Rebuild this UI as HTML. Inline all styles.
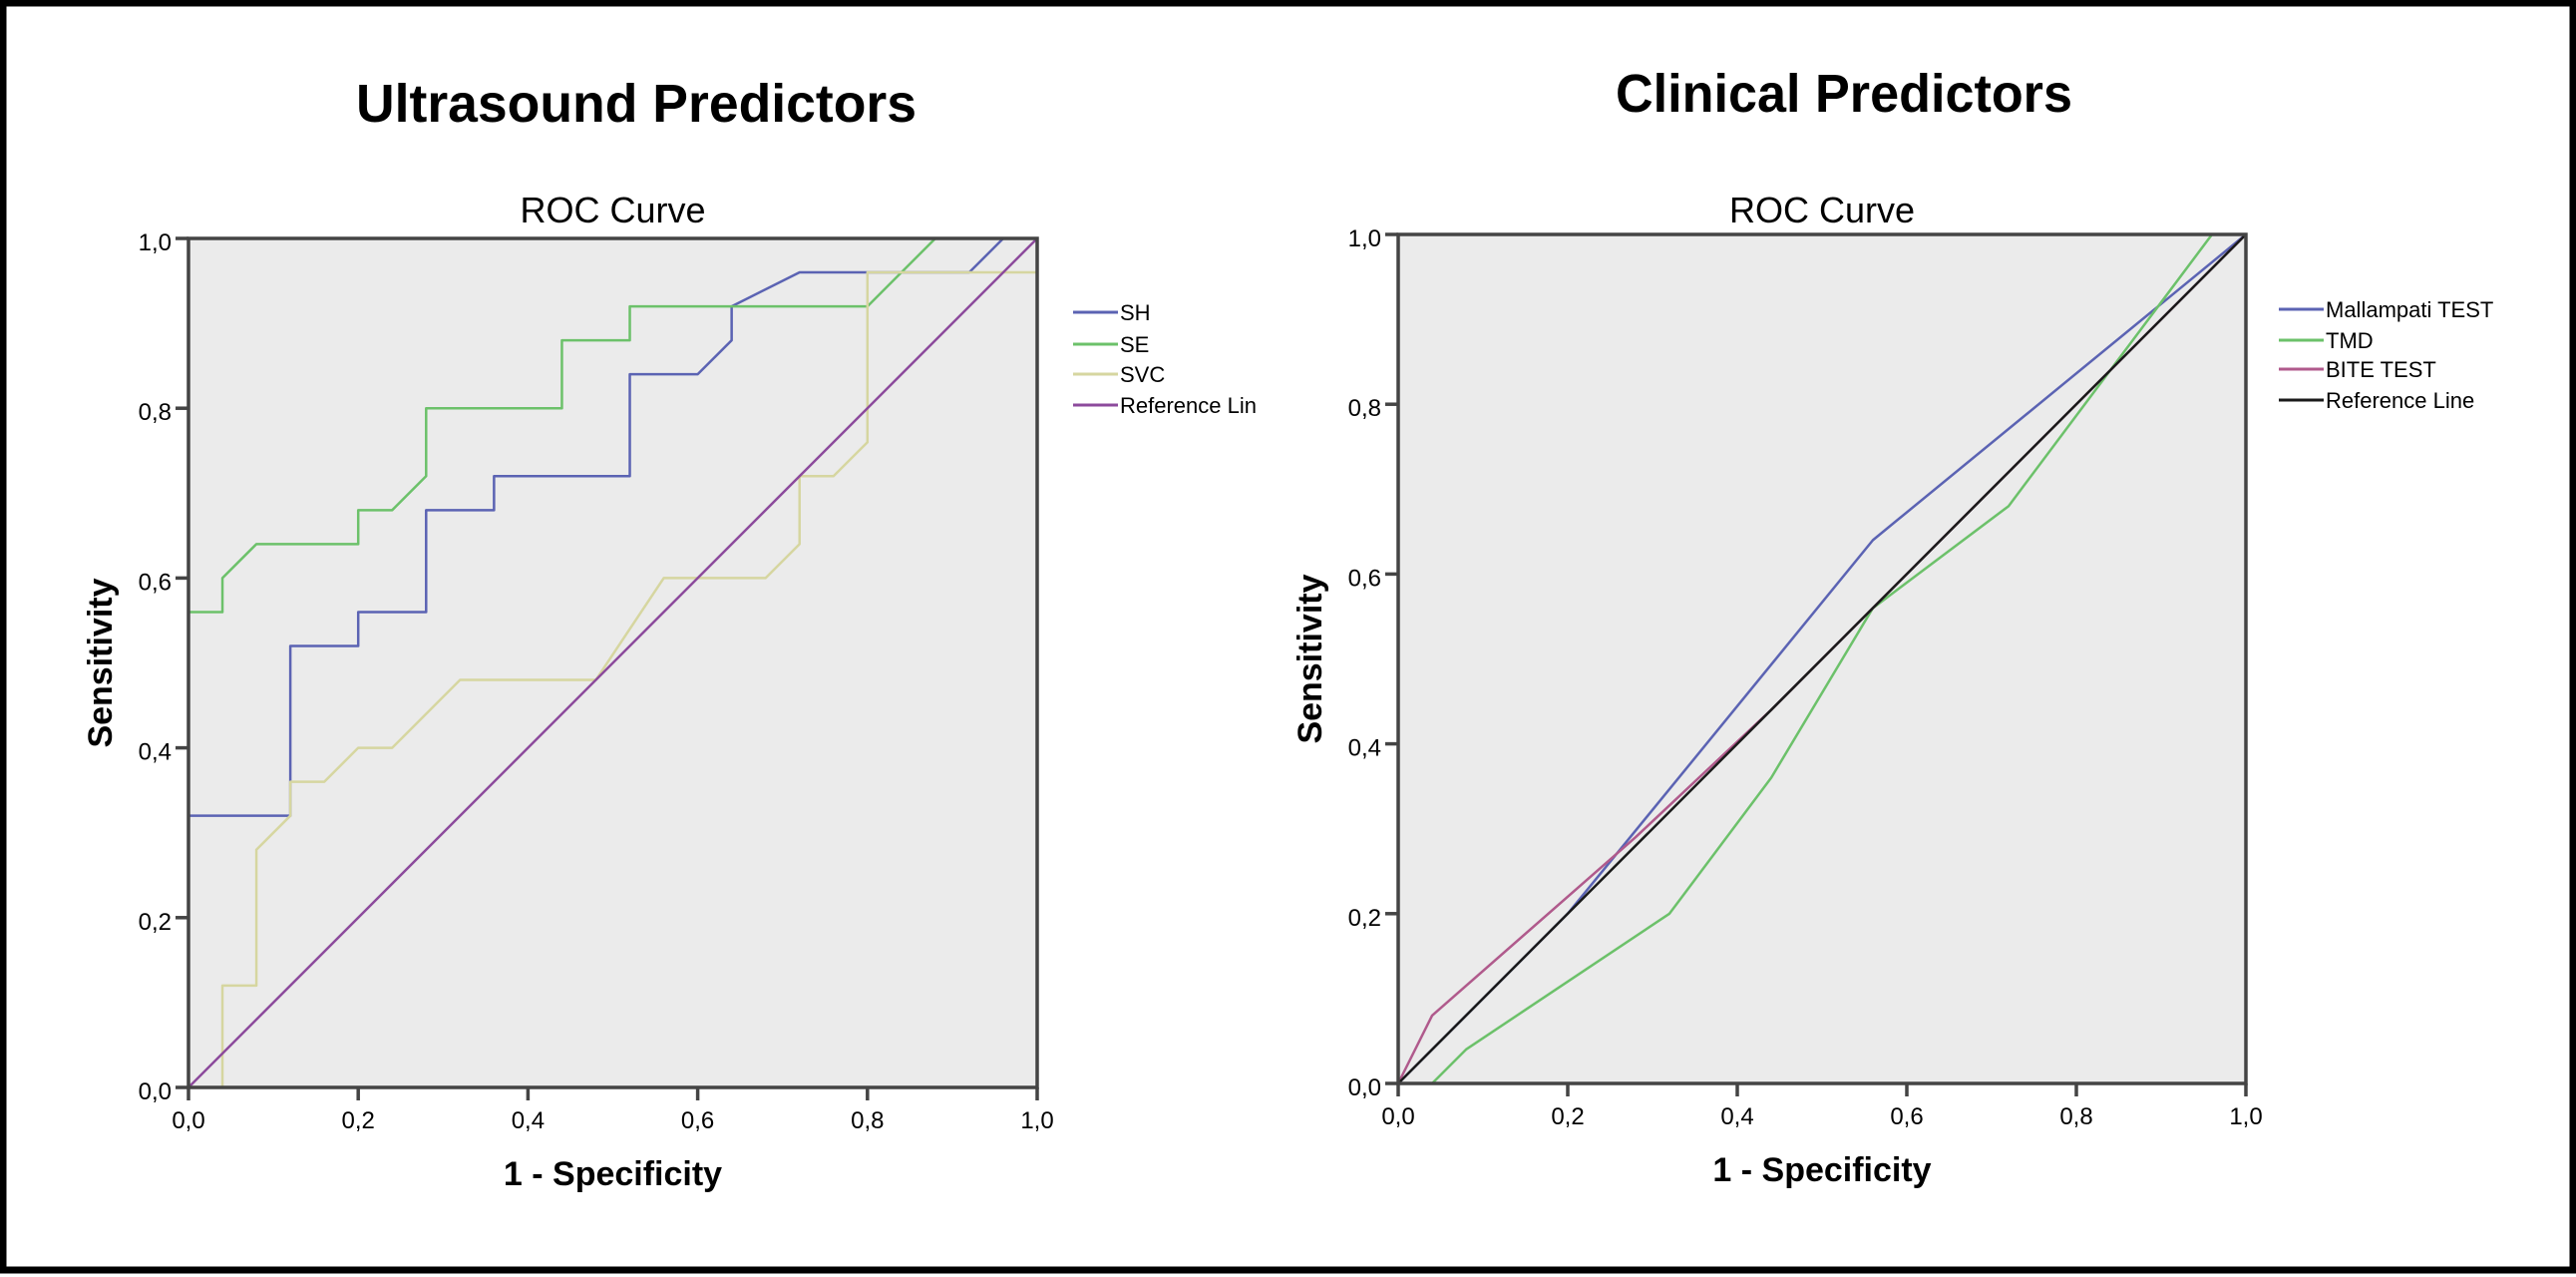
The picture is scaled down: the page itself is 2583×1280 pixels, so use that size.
<!DOCTYPE html>
<html><head><meta charset="utf-8"><style>
html,body{margin:0;padding:0;background:#fff;}
svg{display:block;font-family:"Liberation Sans",sans-serif;}
</style></head><body>
<svg id="s" width="2583" height="1280" viewBox="0 0 2583 1280" xmlns="http://www.w3.org/2000/svg">
<rect x="3" y="3" width="2577" height="1270" fill="#fff" stroke="#000" stroke-width="7"/>
<text x="638" y="122" text-anchor="middle" font-size="54" font-weight="bold" textLength="562" lengthAdjust="spacingAndGlyphs">Ultrasound Predictors</text>
<text x="1849" y="112" text-anchor="middle" font-size="54" font-weight="bold" textLength="458" lengthAdjust="spacingAndGlyphs">Clinical Predictors</text>
<g id="left"></g>
<g id="right"></g>
</svg>
<script>
const ticks = [0, 0.2, 0.4, 0.6, 0.8, 1.0];
const tickLabels = ["0,0", "0,2", "0,4", "0,6", "0,8", "1,0"];

const usNames = ["SH", "SE", "SVC", "Reference Lin"];
const shX = [0,0,0.12,0.12,0.2,0.2,0.28,0.28,0.36,0.36,0.52,0.52,0.6,0.64,0.64,0.72,0.92,0.96,1];
const shY = [0,0.32,0.32,0.52,0.52,0.56,0.56,0.68,0.68,0.72,0.72,0.84,0.84,0.88,0.92,0.96,0.96,1,1];
const seX = [0,0,0.04,0.04,0.08,0.2,0.2,0.24,0.28,0.28,0.44,0.44,0.52,0.52,0.8,0.88,1];
const seY = [0,0.56,0.56,0.6,0.64,0.64,0.68,0.68,0.72,0.8,0.8,0.88,0.88,0.92,0.92,1,1];
const svcX = [0,0.04,0.04,0.08,0.08,0.12,0.12,0.16,0.2,0.24,0.32,0.48,0.56,0.68,0.72,0.72,0.76,0.8,0.8,1];
const svcY = [0,0,0.12,0.12,0.28,0.32,0.36,0.36,0.4,0.4,0.48,0.48,0.6,0.6,0.64,0.72,0.72,0.76,0.96,0.96];
const refX = [0,1];
const refY = [0,1];

const clNames = ["Mallampati TEST", "TMD", "BITE TEST", "Reference Line"];
const malX = [0,0.2,0.56,1];
const malY = [0,0.2,0.64,1];
const tmdX = [0,0.04,0.08,0.32,0.44,0.56,0.72,0.96,1];
const tmdY = [0,0,0.04,0.2,0.36,0.56,0.68,1,1];
const biteX = [0,0.04,0.28,0.44,1];
const biteY = [0,0.08,0.29,0.44,1];

const NS = "http://www.w3.org/2000/svg";
function mk(parent, tag, attrs){
  const e = document.createElementNS(NS, tag);
  for (const k in attrs) e.setAttribute(k, attrs[k]);
  parent.appendChild(e);
  return e;
}
function drawChart(g, box, series, names, colors, legX, legRows){
  const sx = v => box.x0 + v*(box.x1-box.x0);
  const sy = v => box.y1 - v*(box.y1-box.y0);
  const bg = mk(g,'rect',{x:box.x0,y:box.y0,width:box.x1-box.x0,height:box.y1-box.y0,fill:'#ebebeb'});
  
  
  const t = mk(g,'text',{x:(box.x0+box.x1)/2,y:223,'text-anchor':'middle','font-size':36});
  t.textContent = 'ROC Curve';
  
  
  series.forEach((s,i)=>{
    const pts = s.x.map((v,j)=>sx(v)+','+sy(s.y[j])).join(' ');
    const pl = mk(g,'polyline',{points:pts,fill:'none',stroke:colors[i],'stroke-width':2.5,'stroke-linejoin':'round'});
    
    
  });
  const fr = mk(g,'rect',{x:box.x0,y:box.y0,width:box.x1-box.x0,height:box.y1-box.y0,fill:'none',stroke:'#444','stroke-width':3.5});
  
  
  ticks.forEach((v,i)=>{
    mk(g,'line',{x1:box.x0-13,x2:box.x0,y1:sy(v),y2:sy(v),stroke:'#444','stroke-width':3.5});
    const yl = mk(g,'text',{x:box.x0-17,y:sy(v)+12,'text-anchor':'end','font-size':24});
    yl.textContent = tickLabels[i];
    
    
    mk(g,'line',{x1:sx(v),x2:sx(v),y1:box.y1,y2:box.y1+13,stroke:'#444','stroke-width':3.5});
    const xl = mk(g,'text',{x:sx(v),y:box.y1+41,'text-anchor':'middle','font-size':24});
    xl.textContent = tickLabels[i];
    
    
  });
  const xt = mk(g,'text',{x:(box.x0+box.x1)/2,y:box.y1+98,'text-anchor':'middle','font-size':34,'font-weight':'bold'});
  xt.textContent = '1 - Specificity';
  
  
  const cy = (box.y0+box.y1)/2;
  const yt = mk(g,'text',{x:box.x0-77,y:cy,'text-anchor':'middle','font-size':34,'font-weight':'bold',transform:'rotate(-90 '+(box.x0-77)+' '+cy+')'});
  yt.textContent = 'Sensitivity';
  
  
  names.forEach((n,i)=>{
    const le = mk(g,'g',{});
    
    
    mk(le,'line',{x1:legX,x2:legX+45,y1:legRows[i],y2:legRows[i],stroke:colors[i],'stroke-width':3});
    const tx = mk(le,'text',{x:legX+47,y:legRows[i]+8,'font-size':22});
    tx.textContent = n;
  });
}
drawChart(document.getElementById('left'),{x0:189,x1:1040,y0:239,y1:1090},
  [{x:shX,y:shY},{x:seX,y:seY},{x:svcX,y:svcY},{x:refX,y:refY}],
  usNames,['#5b63b3','#6cc16a','#d6d6a0','#8c4a9c'],1076,[313,345,375,406]);
drawChart(document.getElementById('right'),{x0:1402,x1:2252,y0:235,y1:1086},
  [{x:malX,y:malY},{x:tmdX,y:tmdY},{x:biteX,y:biteY},{x:refX,y:refY}],
  clNames,['#5b63b3','#6cc16a','#b05a8c','#1a1a1a'],2285,[310,341,370,401]);
</script>
</body></html>
